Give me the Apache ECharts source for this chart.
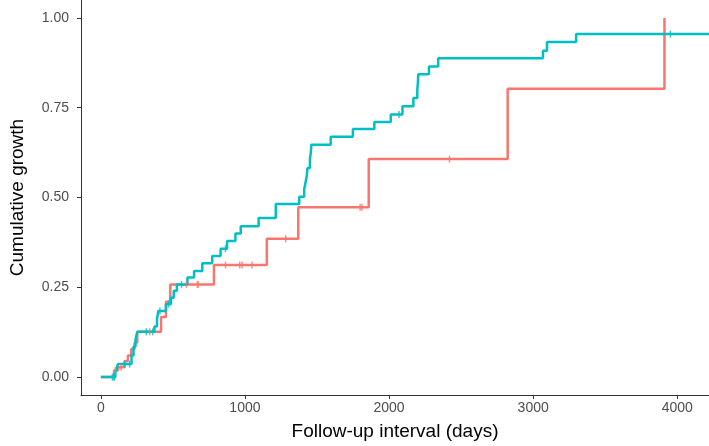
<!DOCTYPE html>
<html>
<head>
<meta charset="utf-8">
<script src="https://cdn.jsdelivr.net/npm/echarts@6/dist/echarts.min.js"></script>
<style>
html,body{margin:0;padding:0;background:#fff;}
#chart{width:709px;height:446px;}
</style>
</head>
<body>
<div id="chart"></div>
<script>
// ---- data ----
const xTicks = [0, 1000, 2000, 3000, 4000];
const yTicks = [0, 0.25, 0.5, 0.75, 1.0];

// teal group: event times (days) and cumulative growth after each step
const tealDays   = [0, 101, 110, 119, 213, 227, 241, 253, 372, 390, 399, 452, 487, 506, 528, 601, 647, 704, 773, 831, 876, 934, 971, 1095, 1214, 1377, 1411, 1422, 1429, 1434, 1451, 1457, 1461, 1595, 1749, 1898, 2012, 2093, 2169, 2196, 2200, 2203, 2277, 2341, 3068, 3096, 3298, 4220];
const tealValues = [0, 0.013, 0.024, 0.036, 0.060, 0.085, 0.105, 0.126, 0.141, 0.161, 0.184, 0.203, 0.221, 0.240, 0.258, 0.277, 0.295, 0.317, 0.337, 0.357, 0.379, 0.400, 0.420, 0.443, 0.482, 0.502, 0.522, 0.545, 0.560, 0.582, 0.606, 0.625, 0.647, 0.669, 0.691, 0.710, 0.731, 0.754, 0.777, 0.800, 0.820, 0.843, 0.865, 0.888, 0.909, 0.933, 0.955, 0.955];
const tealCensorDays = [80, 90, 95, 165, 200, 315, 360, 410, 470, 560, 865, 2069, 3952];

// salmon group
const redDays   = [0, 92, 119, 165, 188, 211, 234, 253, 418, 452, 482, 785, 1152, 1370, 1859, 2823, 3911];
const redValues = [0, 0.018, 0.027, 0.045, 0.060, 0.078, 0.096, 0.126, 0.167, 0.210, 0.258, 0.312, 0.385, 0.473, 0.607, 0.803, 1.0];
const redCensorDays = [100, 140, 340, 594, 670, 675, 865, 964, 980, 1049, 1283, 1799, 1812, 2419];

const TEAL = '#00BFC4', RED = '#F8766D';

function valueAt(days, values, t) {
  let v = values[0];
  for (let i = 0; i < days.length; i++) { if (days[i] <= t) v = values[i]; }
  return v;
}
const pairs = (a, b) => a.map((d, i) => [d, b[i]]);
const censorPts = (cd, days, values) => cd.map(t => [t, valueAt(days, values, t)]);

const chart = echarts.init(document.getElementById('chart'), null, {renderer: 'canvas'});
const axisCol = '#333333';
const labelCol = '#4d4d4d';
const fontFam = '"Liberation Sans", Arial, sans-serif';

chart.setOption({
  animation: false,
  backgroundColor: '#ffffff',
  grid: {left: 75, right: 0, top: 0, bottom: 50, containLabel: false},
  xAxis: {
    type: 'value', min: -137.5, max: 4220,
    name: 'Follow-up interval (days)', nameLocation: 'middle', nameGap: 27,
    nameTextStyle: {color: '#000', fontSize: 19, fontFamily: fontFam},
    axisLine: {show: true, onZero: false, lineStyle: {color: axisCol, width: 1}},
    axisTick: {show: true, length: 4, customValues: xTicks, lineStyle: {color: axisCol}},
    axisLabel: {customValues: xTicks, color: labelCol, fontSize: 14, margin: 6, fontFamily: fontFam,
      formatter: v => String(v)},
    splitLine: {show: false}
  },
  yAxis: {
    type: 'value', min: -0.05, max: 1.05,
    name: 'Cumulative growth', nameLocation: 'middle', nameGap: 54, nameRotate: 90,
    nameTextStyle: {color: '#000', fontSize: 19, fontFamily: fontFam},
    axisLine: {show: true, onZero: false, lineStyle: {color: axisCol, width: 1}},
    axisTick: {show: true, length: 4, customValues: yTicks, lineStyle: {color: axisCol}},
    axisLabel: {customValues: yTicks, color: labelCol, fontSize: 14, margin: 12, fontFamily: fontFam,
      formatter: v => v.toFixed(2)},
    splitLine: {show: false}
  },
  series: [
    {type: 'line', step: 'end', data: pairs(redDays, redValues), showSymbol: false,
     lineStyle: {color: RED, width: 2.5}, z: 2},
    {type: 'line', step: 'end', data: pairs(tealDays, tealValues), showSymbol: false,
     lineStyle: {color: TEAL, width: 2.5}, z: 3},
    {type: 'scatter', data: censorPts(redCensorDays, redDays, redValues), symbol: 'rect',
     symbolSize: [1.5, 7], itemStyle: {color: RED}, z: 4},
    {type: 'scatter', data: censorPts(tealCensorDays, tealDays, tealValues), symbol: 'rect',
     symbolSize: [1.5, 7], itemStyle: {color: TEAL}, z: 5}
  ]
});
</script>
</body>
</html>
